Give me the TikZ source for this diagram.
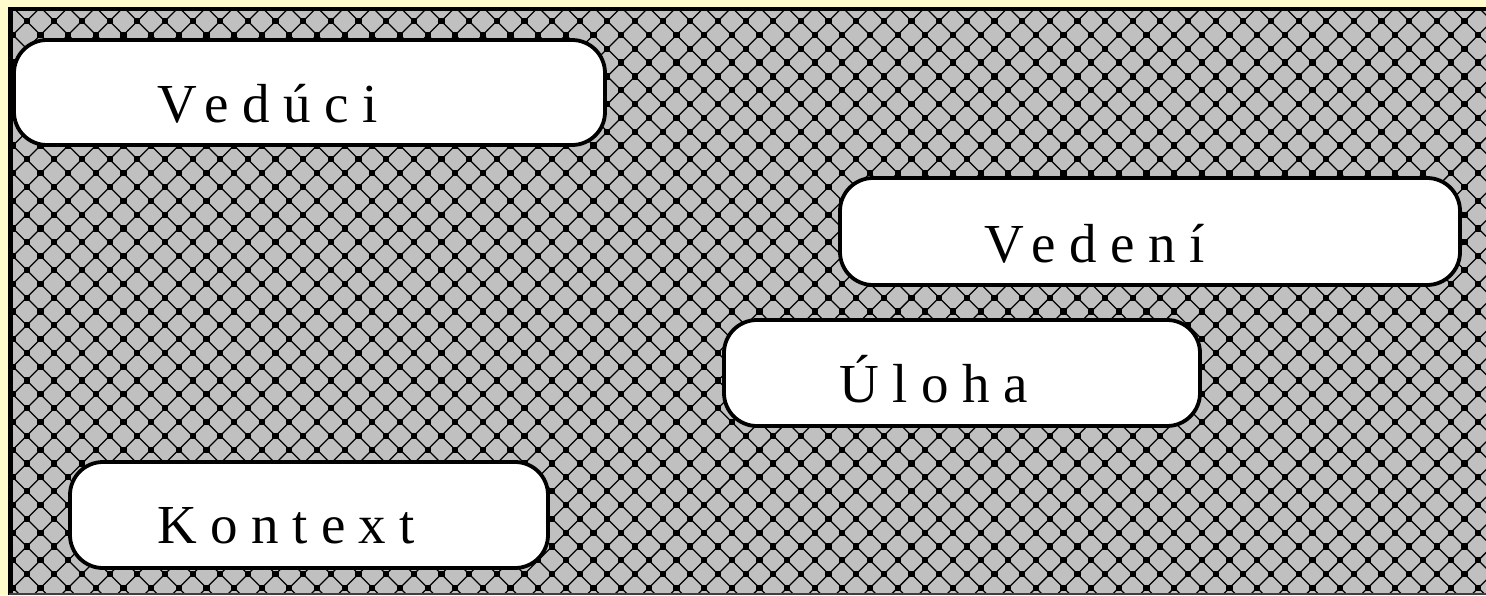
\documentclass[tikz,border=0pt]{standalone}
\usepackage{fontspec}
\newfontfamily\lsfont{Liberation Serif}[LetterSpace=24.5]
\definecolor{bgyellow}{HTML}{FFFBCC}
\definecolor{patgray}{HTML}{C0C0C0}
\definecolor{edgegray}{HTML}{404040}
\begin{document}
\begin{tikzpicture}[x=1pt,y=-1pt,
  labelbox/.style={draw=black, line width=3.8pt, fill=white, rounded corners=33pt, inner sep=0pt},
  labeltext/.style={anchor=base west, inner sep=0pt, font=\lsfont\fontsize{55}{60}\selectfont},
  patline/.style={black, line width=1.25pt},
  patsq/.style={fill=black}]
\useasboundingbox (0,0) rectangle (1486,595);
\fill[bgyellow] (0,0) rectangle (1486,595);
% pattern
\def\P{27.65}
\begin{scope}
\clip (9,7) rectangle (1486,593);
\fill[patgray] (9,7) rectangle (1486,593);
\foreach \m in {-40,...,36} {
  \draw[patline] ({503.3+\m*\P},0) -- ++(600,600);
}
\foreach \n in {-28,...,48} {
  \draw[patline] ({766.7+\n*\P},0) -- ++(-600,600);
}
\foreach \j in {-5,...,17} {
  \foreach \i in {-23,...,31} {
    \fill[patsq] ({635+\i*\P-3.1},{131.7+\j*\P-3.1}) rectangle ++(6.2,6.2);
    \fill[patsq] ({635+\P/2+\i*\P-3.1},{131.7+\P/2+\j*\P-3.1}) rectangle ++(6.2,6.2);
  }
}
\end{scope}
% frame
\draw[black, line width=4.4pt] (10.5,595) -- (10.5,9) -- (1486,9);
\fill[edgegray] (9,593) rectangle (1486,595);
% boxes
\node[labelbox, minimum width=591pt, minimum height=105pt] (veduciBox) at (309.5,92.5) {};
\node[labelbox, minimum width=620pt, minimum height=107pt] (vedeniBox) at (1150,231.5) {};
\node[labelbox, minimum width=476pt, minimum height=106pt] (ulohaBox) at (962,373) {};
\node[labelbox, minimum width=478pt, minimum height=106pt] (kontextBox) at (309,515) {};
% texts
\node[labeltext] (veduci) at (157,122) {Vedúci};
\node[labeltext] (vedeni) at (984,262) {Vedení};
\node[labeltext] (uloha) at (839,402) {Úloha};
\node[labeltext] (kontext) at (157,543) {Kontext};
\end{tikzpicture}
\end{document}
